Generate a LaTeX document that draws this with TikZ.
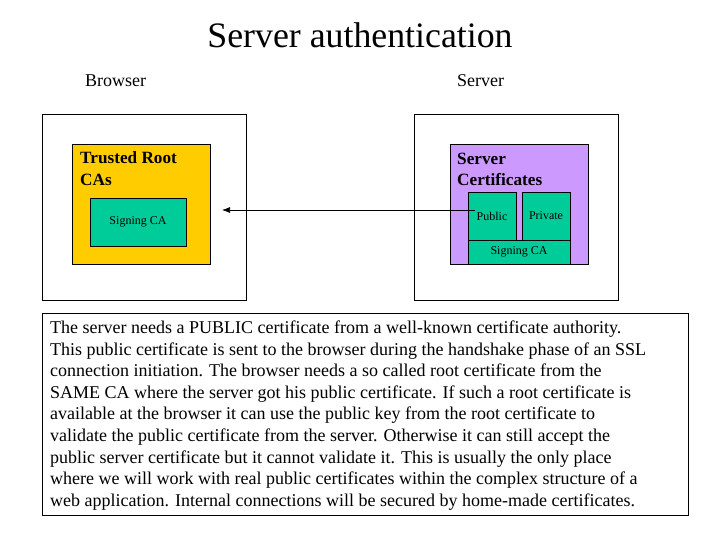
\documentclass[tikz,border=0pt]{standalone}
\usepackage{fontspec}
\setmainfont{Liberation Serif}
\usetikzlibrary{arrows.meta}
\definecolor{rootyellow}{HTML}{FFCC00}
\definecolor{certgreen}{HTML}{00CC99}
\definecolor{certpurple}{HTML}{CC99FF}
\begin{document}
\begin{tikzpicture}[x=1pt,y=-1pt,
  box/.style={draw=black,line width=0.8pt,inner sep=0pt,outer sep=0pt},
  lbl/.style={inner sep=0pt,anchor=base west,font=\fontsize{18}{20}\selectfont},
  boldlbl/.style={inner sep=0pt,anchor=base west,font=\bfseries\fontsize{17.2}{20}\selectfont},
  small/.style={font=\fontsize{12}{14}\selectfont},
  bodyline/.style={inner sep=0pt,anchor=base west,font=\fontsize{18}{20}\selectfont}]
\useasboundingbox (0,0) rectangle (720,540);
\fill[white] (0,0) rectangle (720,540);

\node[inner sep=0pt,anchor=base] (title) at (360,48) {\fontsize{35.8}{40}\selectfont Server authentication};
\node[lbl] (blabel) at (85,87) {Browser};
\node[lbl] (slabel) at (457,87) {Server};

% Browser side
\draw[box] (42,114) rectangle (246,300);
\draw[box,fill=rootyellow] (72,144) rectangle (210,264);
\node[boldlbl] (tr1) at (80,164) {Trusted Root};
\node[boldlbl] (tr2) at (80,186) {CAs};
\node[box,fill=certgreen,minimum width=96pt,minimum height=48pt,small,anchor=north west] (bsign) at (90,198) {Signing CA};

% Server side
\draw[box] (414,114) rectangle (618,300);
\draw[box,fill=certpurple] (450,144) rectangle (588,264);
\node[boldlbl] (sc1) at (457,165) {Server};
\node[boldlbl] (sc2) at (457,186) {Certificates};
\node[box,fill=certgreen,minimum width=48pt,minimum height=48pt,small,anchor=north west] (pub) at (468,192) {Public};
\node[box,fill=certgreen,minimum width=48pt,minimum height=48pt,small,anchor=north west] (priv) at (522,192) {Private};
\node[box,fill=certgreen,minimum width=102pt,minimum height=24pt,small,anchor=north west] (ssign) at (468,240) {Signing CA};

% Arrow
\coordinate (astart) at (475,210);
\coordinate (aend) at (222,210);
\draw[line width=0.7pt,-{Latex[length=8pt,width=6pt]}] (astart) -- (aend);

% Text box
\draw[box] (42,313) rectangle (688,515);
\node[bodyline] (l1) at (50,333) {The server needs a PUBLIC certificate from a well-known certificate authority.};
\node[bodyline] (l2) at (50,355) {This public certificate is sent to the browser during the handshake phase of an SSL};
\node[bodyline] (l3) at (50,376) {connection initiation. The browser needs a so called root certificate from the};
\node[bodyline] (l4) at (50,398) {SAME CA where the server got his public certificate. If such a root certificate is};
\node[bodyline] (l5) at (50,419) {available at the browser it can use the public key from the root certificate to};
\node[bodyline] (l6) at (50,441) {validate the public certificate from the server. Otherwise it can still accept the};
\node[bodyline] (l7) at (50,463) {public server certificate but it cannot validate it. This is usually the only place};
\node[bodyline] (l8) at (50,484) {where we will work with real public certificates within the complex structure of a};
\node[bodyline] (l9) at (50,506) {web application. Internal connections will be secured by home-made certificates.};
\end{tikzpicture}
\end{document}
